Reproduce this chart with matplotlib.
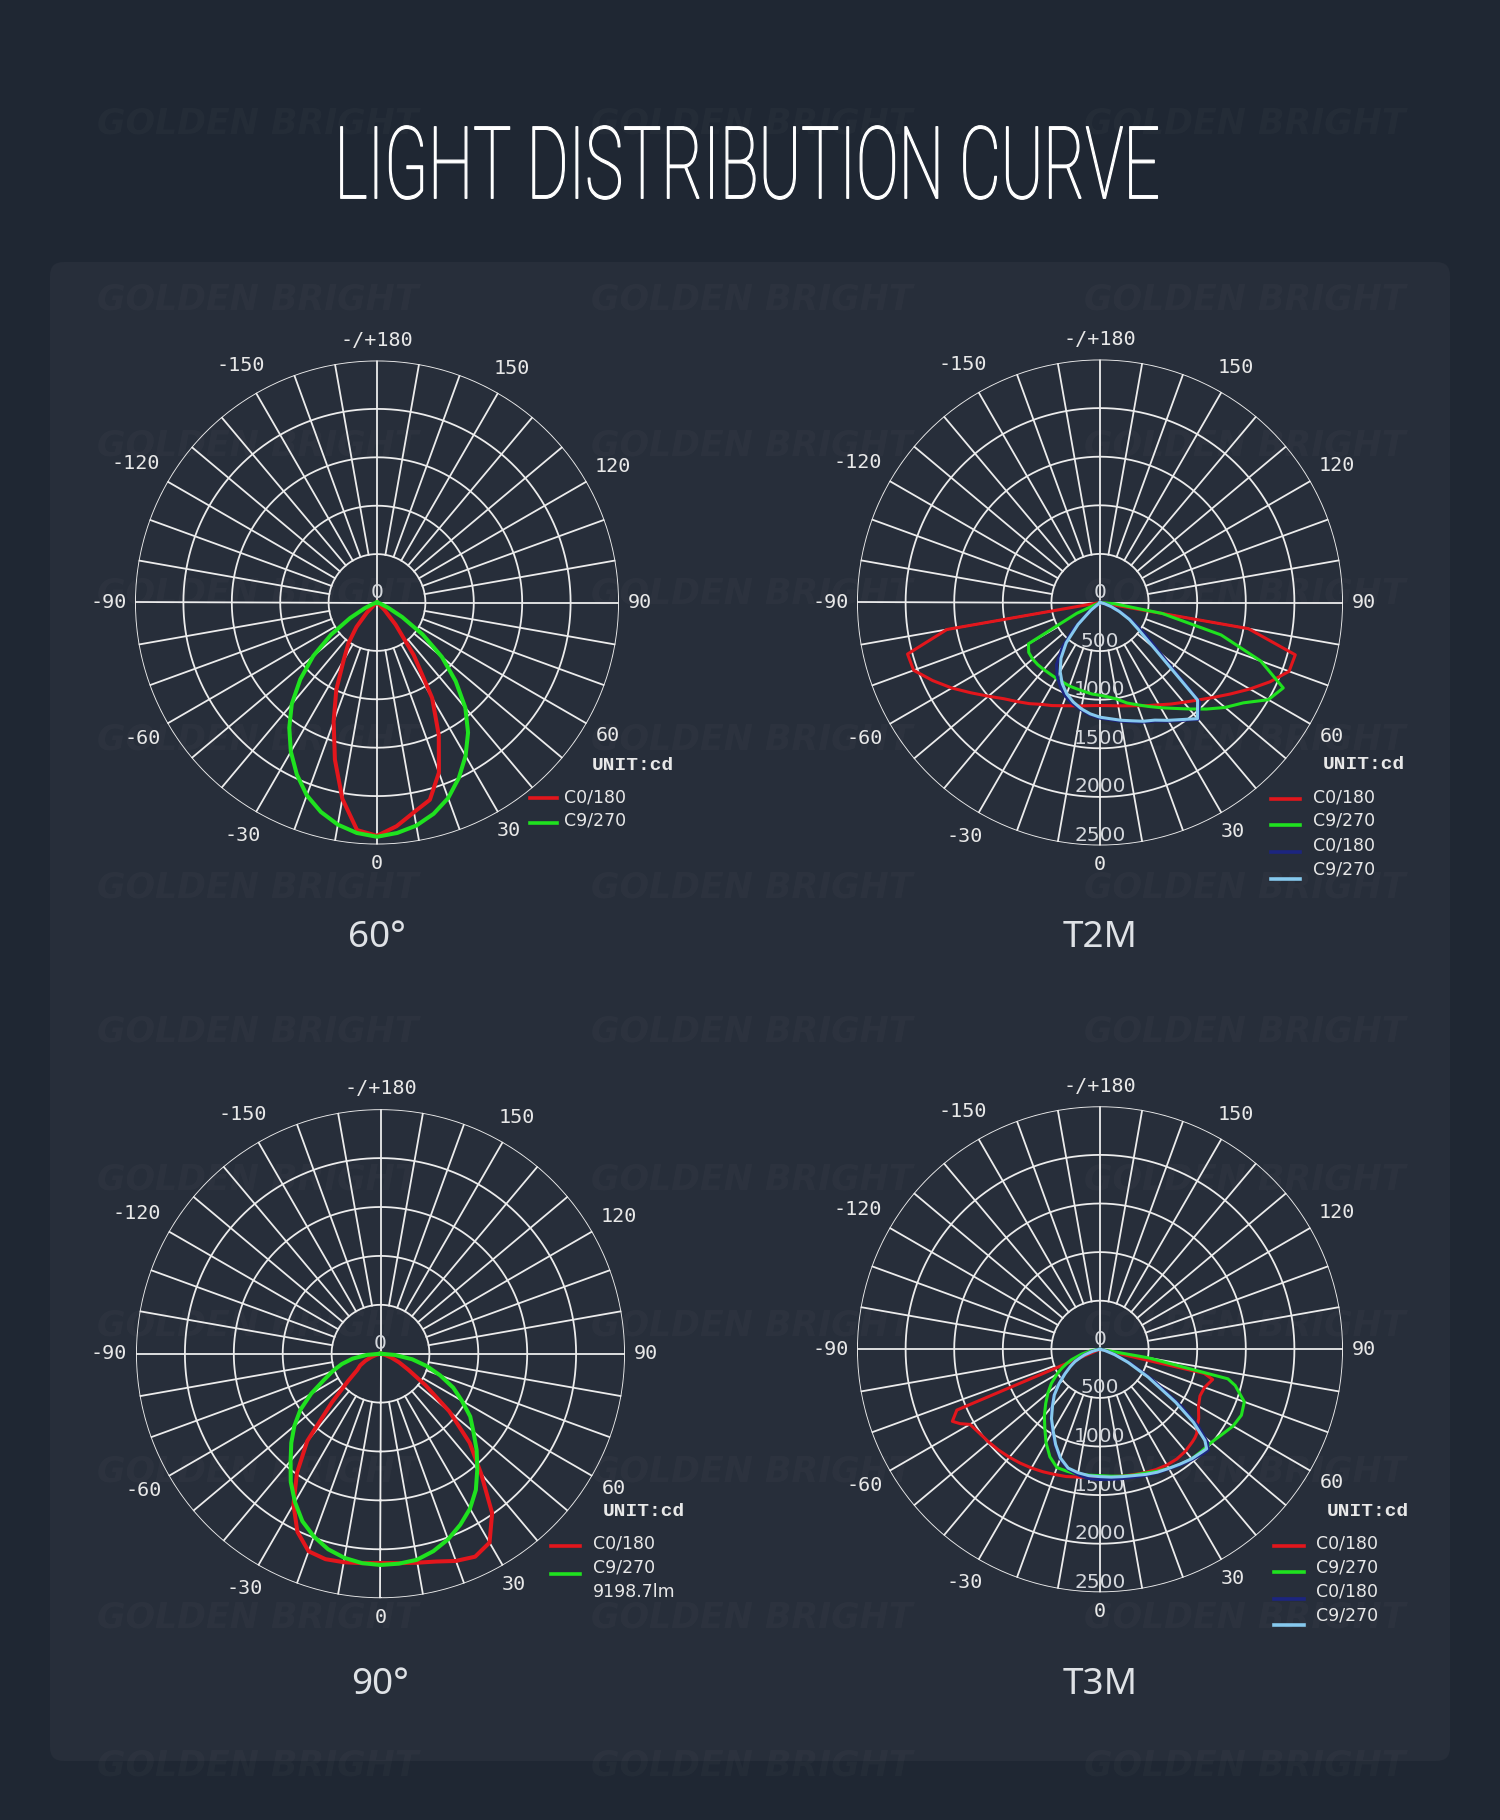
import numpy as np
import matplotlib
matplotlib.use("Agg")
import matplotlib.pyplot as plt
from matplotlib import patheffects
from matplotlib.patches import FancyBboxPatch
from matplotlib.transforms import Affine2D, offset_copy

# ---- data (intensity in cd, gamma angle in degrees, 0 = straight down) ----
GAMMA = np.arange(-90, 95, 5)

# 60 deg lens
D60_C0 = [0, 0, 0, 0, 0, 0, 0, 0, 40, 150, 330, 515, 690, 995, 1310, 1680, 2060, 2360,
          2410, 2320, 2200, 2110, 1870, 1510, 1140, 660, 300, 110, 30, 0, 0, 0, 0, 0, 0, 0, 0]
D60_C90 = [0, 0, 0, 10, 45, 140, 320, 580, 860, 1120, 1370, 1580, 1780, 1960, 2120, 2240, 2330, 2390,
           2420, 2390, 2340, 2260, 2150, 2000, 1830, 1640, 1420, 1150, 875, 575, 300, 125, 40, 10, 0, 0, 0]

# T2M
T2M_C0 = [0, 0, 1600, 2050, 2040, 1900, 1760, 1620, 1500, 1400, 1330, 1270, 1210, 1170, 1130, 1100, 1080, 1065,
          1060, 1065, 1080, 1100, 1130, 1170, 1215, 1275, 1340, 1420, 1520, 1640, 1780, 1930, 2070, 2080, 1550, 0, 0]
T2M_C90 = [0, 0, 0, 0, 0, 265, 850, 895, 905, 905, 900, 897, 900, 905, 915, 920, 930, 945,
           955, 975, 1010, 1070, 1120, 1180, 1250, 1330, 1430, 1550, 1680, 1800, 2000, 2080, 1760, 1290, 650, 150, 0]
T2M_C0_B = [0, 0, 0, 0, 0, 0, 0, 0, 150, 380, 600, 780, 880, 960, 1030, 1080, 1120, 1160,
            1190, 1210, 1240, 1270, 1310, 1345, 1410, 1480, 1570, 1450, 800, 560, 380, 240, 130, 55, 0, 0, 0]
T2M_C90_B = [0, 0, 0, 0, 0, 0, 0, 0, 120, 320, 540, 700, 820, 920, 1000, 1060, 1110, 1150,
             1180, 1200, 1230, 1260, 1300, 1335, 1400, 1470, 1560, 1420, 720, 480, 350, 220, 120, 50, 0, 0, 0]

# 90 deg lens
D90_C0 = [0, 0, 0, 45, 100, 170, 240, 290, 430, 700, 1165, 1490, 1780, 2010, 2150, 2175, 2165, 2150,
          2140, 2150, 2170, 2200, 2255, 2290, 2230, 1990, 1600, 1290, 920, 560, 330, 210, 120, 50, 0, 0, 0]
D90_C90 = [0, 140, 290, 410, 520, 640, 820, 1000, 1150, 1290, 1430, 1600, 1750, 1890, 1990, 2070, 2120, 2150,
           2160, 2155, 2140, 2090, 2020, 1930, 1830, 1700, 1540, 1390, 1240, 1120, 960, 820, 650, 490, 330, 150, 0]
D90_FLUX = "9198.7lm"

# T3M
GAMMA_T3M = [-90, -85, -80, -75, -70, -67, -64, -62, -60, -55, -50, -45, -40, -35, -30, -25, -20, -15, -10, -5,
             0, 5, 10, 15, 20, 25, 30, 35, 40, 45, 47, 49, 52, 55, 60, 65, 70, 75, 77, 80, 85, 90]
T3M_C0 = [0, 0, 0, 0, 0, 1600, 1690, 1630, 1545, 1510, 1490, 1470, 1450, 1430, 1410, 1390, 1370, 1355, 1335, 1320,
          1310, 1315, 1325, 1335, 1350, 1365, 1375, 1378, 1368, 1345, 1335, 1320, 1270, 1240, 1170, 1135, 1145, 1200,
          1100, 0, 0, 0]
T3M_C90 = [0, 30, 100, 200, 310, 370, 430, 470, 510, 610, 700, 790, 890, 990, 1110, 1220, 1295, 1300, 1305, 1300,
           1300, 1310, 1325, 1340, 1355, 1385, 1415, 1445, 1470, 1480, 1485, 1488, 1505, 1530, 1580, 1605, 1580, 1440,
           1350, 500, 0, 0]
T3M_C0_B = [0, 0, 25, 90, 180, 230, 295, 325, 360, 450, 560, 675, 770, 880, 975, 1090, 1200, 1275, 1310, 1335,
            1340, 1342, 1350, 1360, 1380, 1400, 1420, 1450, 1480, 1510, 1520, 1470, 1280, 1020, 620, 350, 180, 70,
            40, 0, 0, 0]
T3M_C90_B = [0, 0, 20, 80, 170, 220, 285, 315, 350, 440, 550, 665, 760, 870, 965, 1080, 1190, 1265, 1290, 1305,
             1310, 1320, 1330, 1345, 1370, 1395, 1415, 1440, 1470, 1490, 1500, 1430, 1220, 950, 570, 320, 160, 60,
             35, 0, 0, 0]

RINGS = [500, 1000, 1500, 2000, 2500]
RING_LABELS = ["500", "1000", "1500", "2000", "2500"]
ANGLE_TICKS = [0, 30, 60, 90, 120, 150, 180, 210, 240, 270, 300, 330]
ANGLE_LABELS = ["0", "30", "60", "90", "120", "150", "-/+180", "-150", "-120", "-90", "-60", "-30"]
ANGLE_LABEL_R = [1.078, 1.09, 1.10, 1.085, 1.124, 1.116, 1.083, 1.13, 1.15, 1.11, 1.12, 1.11]

# ---- style ----
W, H = 1500, 1820
BG = "#1f2733"
PANEL = "#272e3a"
GRID = "#ececec"
TXT = "#e8e8e8"
RED = "#e3161c"
GREEN = "#1fe21f"
NAVY = "#1c2580"
LBLUE = "#86c9ee"
RMAX = 2500


def fx(x):
    return x / W


def fy(y):
    return 1 - y / H


class SqueezeX(patheffects.AbstractPathEffect):
    # narrow the glyphs horizontally around x = cx (display px), with a thin outline
    def __init__(self, sx, cx, lw=0.9):
        super().__init__()
        self.sx = sx
        self.cx = cx
        self.lw = lw

    def draw_path(self, renderer, gc, tpath, affine, rgbFace=None):
        aff = affine + Affine2D().translate(-self.cx, 0).scale(self.sx, 1).translate(self.cx, 0)
        gc0 = renderer.new_gc()
        gc0.copy_properties(gc)
        gc0.set_linewidth(self.lw)
        gc0.set_foreground(rgbFace)
        renderer.draw_path(gc0, tpath, aff, rgbFace)
        gc0.restore()


fig = plt.figure(figsize=(W / 100, H / 100), dpi=100, facecolor=BG)

panel = FancyBboxPatch((fx(50), fy(1761)), 1400 / W, 1499 / H,
                       boxstyle="round,pad=0,rounding_size=0.009", mutation_aspect=0.824,
                       transform=fig.transFigure, facecolor=PANEL, edgecolor="none", zorder=-2)
fig.patches.append(panel)

# watermark
for wy in [124, 300, 446, 593, 740, 887, 1032, 1180, 1326, 1472, 1618, 1765]:
    for wx in [258, 752, 1245]:
        fig.text(fx(wx), fy(wy), "GOLDEN BRIGHT", ha="center", va="center", fontsize=25,
                 fontweight="bold", fontstyle="italic", color="white", alpha=0.025, zorder=-1)

title = fig.text(fx(747.5), fy(198.3), "LIGHT DISTRIBUTION CURVE", ha="center", va="baseline",
                 fontsize=72.5, color="white", fontweight="light", family=["Roboto", "DejaVu Sans"])


def make_chart(cx, cy, R, gamma, series, lw, cd_labels, subtitle, legend, flux=None):
    ax = fig.add_axes([fx(cx - R), fy(cy + R), 2 * R / W, 2 * R / H], projection="polar")
    ax.set_autoscale_on(False)
    ax.set_theta_zero_location("S")
    ax.set_theta_direction(1)
    ax.set_xlim(0, 2 * np.pi)
    ax.set_ylim(0, RMAX)
    ax.set_facecolor("none")
    ax.set_xticks([])
    ax.set_yticks([])
    ax.grid(False)
    ax.spines["polar"].set_visible(False)

    th = np.linspace(0, 2 * np.pi, 721)
    for r in RINGS:
        ax.plot(th, np.full_like(th, r), color=GRID, lw=1.3, zorder=1)
    for a in range(0, 360, 10):
        r0 = 0 if a % 90 == 0 else RINGS[0]
        ax.plot([np.radians(a)] * 2, [r0, RMAX], color=GRID, lw=1.3, zorder=1)

    for a, lab, f in zip(ANGLE_TICKS, ANGLE_LABELS, ANGLE_LABEL_R):
        ax.text(np.radians(a), RMAX * f, lab, ha="center", va="center", fontsize=14.5,
                color=TXT, clip_on=False, family=["DejaVu Sans Mono"])

    up = offset_copy(ax.transData, fig=fig, x=0, y=10, units="dots")
    ax.text(0, 0, "0", transform=up, ha="center", va="center", fontsize=14.5, color="#d4d7dc",
            clip_on=False, zorder=2)
    if cd_labels:
        for r, lab in zip(RINGS, RING_LABELS):
            ax.text(0, r, lab, transform=up, ha="center", va="center", fontsize=14.5,
                    color="#d4d7dc", clip_on=False, zorder=2)

    g = np.radians(gamma)
    for vals, col, _ in series:
        ax.plot(g, vals, color=col, lw=lw, zorder=3, solid_joinstyle="round")

    fig.text(fx(cx), fy(subtitle[1]), subtitle[0], ha="center", va="baseline", fontsize=26.5,
             color="#dfe2e6", family=["Noto Sans", "DejaVu Sans"])

    ux, uy, lx0, lx1, tx, ty0, ldy0, ldy_step = legend
    fig.text(fx(cx + ux), fy(cy + uy), "UNIT:cd", ha="left", va="center", fontsize=14,
             fontweight="bold", color=TXT, family=["Liberation Mono", "DejaVu Sans Mono"])
    rows = [(s[2], s[1]) for s in series]
    if flux is not None:
        rows.append((flux, None))
    for i, (lab, col) in enumerate(rows):
        fig.text(fx(cx + tx), fy(cy + ty0 + 24 * i), lab, ha="left", va="center", fontsize=12.5,
                 color=TXT)
        if col is not None:
            yy = fy(cy + ldy0 + ldy_step * i)
            fig.add_artist(plt.Line2D([fx(cx + lx0), fx(cx + lx1)], [yy, yy], color=col, lw=2.6,
                                      transform=fig.transFigure))
    return ax


make_chart(377, 602.5, 242, GAMMA,
           [(D60_C0, RED, "C0/180"), (D60_C90, GREEN, "C9/270")], 2.9, False,
           ("60°", 946.7), (215, 163, 152.6, 180, 187, 194.5, 195.5, 25))
make_chart(1100, 602.5, 243, GAMMA,
           [(T2M_C0, RED, "C0/180"), (T2M_C90, GREEN, "C9/270"),
            (T2M_C0_B, NAVY, "C0/180"), (T2M_C90_B, LBLUE, "C9/270")], 2.2, True,
           ("T2M", 946.7), (223, 162, 171, 200, 212.5, 194.5, 196.5, 26.5))
make_chart(380.5, 1353.7, 244.5, GAMMA,
           [(D90_C0, RED, "C0/180"), (D90_C90, GREEN, "C9/270")], 2.9, False,
           ("90°", 1693.5), (222, 158, 170.6, 199.6, 212, 190.3, 191.8, 28), flux=D90_FLUX)
make_chart(1100, 1349.3, 243, GAMMA_T3M,
           [(T3M_C0, RED, "C0/180"), (T3M_C90, GREEN, "C9/270"),
            (T3M_C0_B, NAVY, "C0/180"), (T3M_C90_B, LBLUE, "C9/270")], 2.2, True,
           ("T3M", 1693.5), (226.8, 162.5, 174, 203.6, 215.6, 194.2, 196.2, 26.5))

# squeeze the title into the condensed look of the original
fig.canvas.draw()
bb = title.get_window_extent()
title.set_path_effects([SqueezeX(826 / bb.width, 747.5)])

fig.savefig("out.png", dpi=100, facecolor=BG)
